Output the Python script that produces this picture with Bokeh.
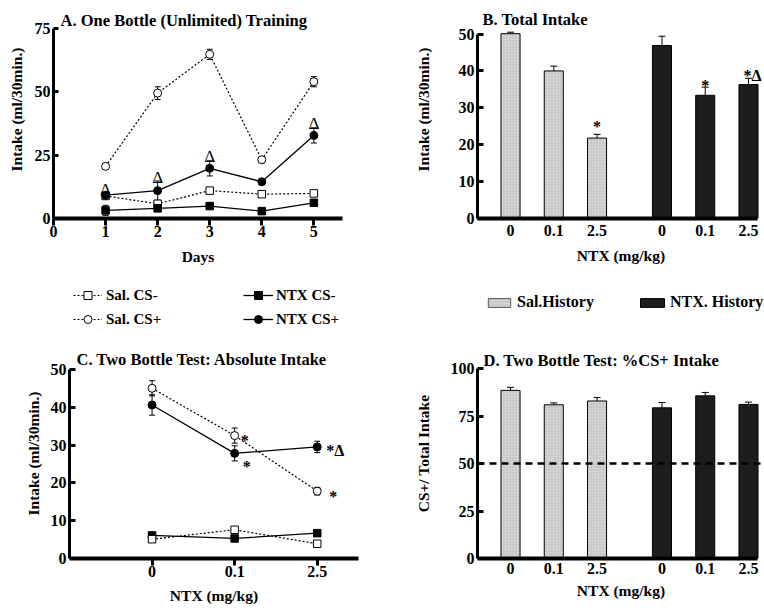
from bokeh.plotting import figure
from bokeh.models import (ColumnDataSource, Whisker, TeeHead, Legend, LegendItem, Label,
                          FixedTicker, Span, Range1d)
from bokeh.layouts import column, row
from bokeh.core.properties import value
from bokeh.embed import file_html
from bokeh.resources import INLINE

FONT = "Liberation Serif"

# ---------------- data ----------------
# Panel A: one bottle training
days = [1, 2, 3, 4, 5]
a_sal_csm = [8.9, 5.8, 11.0, 9.6, 9.9]
a_sal_csm_err = [0.6, 0.6, 0.8, 0.6, 0.6]
a_sal_csp = [20.6, 49.5, 64.8, 23.2, 54.0]
a_sal_csp_err = [0.8, 2.5, 2.0, 1.2, 2.0]
a_ntx_csm = [3.2, 4.0, 4.9, 2.9, 6.2]
a_ntx_csm_err = [2.0, 0.8, 0.8, 0.6, 0.6]
a_ntx_csp = [9.2, 11.0, 19.8, 14.5, 32.8]
a_ntx_csp_err = [0.8, 3.8, 3.0, 0.8, 3.0]
a_delta_days = [1, 2, 3, 5]

# Panel B: total intake
doses = ["0", "0.1", "2.5"]
b_sal = [50.1, 40.0, 21.8]
b_sal_err = [0.4, 1.3, 1.0]
b_ntx = [46.9, 33.4, 36.3]
b_ntx_err = [2.5, 2.2, 1.7]
b_sal_sig = ["", "", "*"]
b_ntx_sig = ["", "*", "*\u0394"]

# Panel C: two bottle absolute intake
c_sal_csp = [45.0, 32.5, 17.8]
c_sal_csp_err = [2.0, 2.0, 1.0]
c_ntx_csp = [40.6, 27.8, 29.5]
c_ntx_csp_err = [2.7, 2.0, 1.5]
c_sal_csm = [5.1, 7.6, 3.9]
c_sal_csm_err = [0.5, 0.6, 0.4]
c_ntx_csm = [6.1, 5.3, 6.7]
c_ntx_csm_err = [0.4, 0.5, 0.4]
c_sal_csp_sig = ["", "*", "*"]
c_ntx_csp_sig = ["", "*", "*\u0394"]

# Panel D: %CS+ intake
d_sal = [88.5, 80.9, 82.9]
d_sal_err = [1.6, 1.0, 1.8]
d_ntx = [79.3, 85.6, 81.1]
d_ntx_err = [2.8, 1.8, 1.2]
chance_level = 50

GRAY = "#d4d4d4"
BLACK = "#1e1c1d"


def style(p, ytick_in=5):
    p.outline_line_color = None
    p.grid.visible = False
    p.background_fill_color = "white"
    p.border_fill_color = "white"
    for ax in p.axis:
        ax.axis_line_color = "black"
        ax.major_label_text_font = FONT
        ax.major_label_text_font_style = "bold"
        ax.major_label_text_font_size = "16px"
        ax.major_label_text_color = "black"
        ax.axis_label_text_font = FONT
        ax.axis_label_text_font_style = "bold"
        ax.axis_label_text_font_size = "15.5px"
        ax.axis_label_text_color = "black"
        ax.minor_tick_line_color = None
        ax.major_tick_line_color = "black"
        ax.major_tick_line_width = 3
    p.yaxis.axis_line_width = 3
    p.yaxis.major_tick_in = ytick_in
    p.yaxis.major_tick_out = 0
    p.xaxis.axis_line_width = 4


def add_title(p, text, x, y):
    p.add_layout(Label(x=x, y=y, x_units="screen", y_units="screen", text=text,
                       text_font=FONT, text_font_style="bold", text_font_size="16.5px",
                       text_baseline="middle", text_color="black"))


def whisker(p, xs, ys, errs, both=True, head=6):
    src = ColumnDataSource(dict(x=xs,
                                lo=[y - e for y, e in zip(ys, errs)] if both else list(ys),
                                hi=[y + e for y, e in zip(ys, errs)]))
    w = Whisker(base="x", lower="lo", upper="hi", source=src, line_color="black", line_width=1,
                upper_head=TeeHead(size=head, line_color="black", line_width=1),
                lower_head=TeeHead(size=head, line_color="black", line_width=1) if both else None)
    p.add_layout(w)


def line_series(p, xs, ys, marker, filled, dotted, size=None):
    lr = p.line(xs, ys, line_color="black", line_width=1.2 if dotted else 1.3,
                line_dash="2 2" if dotted else "solid")
    if size is None:
        size = 8 if marker == "circle" else 7.5
    sr = p.scatter(xs, ys, marker=marker, size=size,
                   fill_color="black" if filled else "white", line_color="black", line_width=1)
    return lr, sr


def sig_text(p, xs, ys, texts, align, x_off, y_off, baseline):
    p.text(xs, ys, text=texts, text_font=value(FONT), text_font_size="16px", text_font_style="bold",
           text_align=align, text_baseline=baseline, x_offset=x_off, y_offset=y_off,
           text_color="#000000")


def make_legend(items, x, y, glyph_w=29, glyph_h=20, label_h=20, spacing=4, size="15px", standoff=4):
    return Legend(items=items, location=(x, y), orientation="vertical",
                  padding=0, margin=0, spacing=spacing, glyph_width=glyph_w, glyph_height=glyph_h,
                  label_height=label_h, label_standoff=standoff,
                  label_text_font=FONT, label_text_font_style="bold", label_text_font_size=size,
                  label_text_color="black",
                  border_line_alpha=0, background_fill_alpha=0)


def legend_fig(w, h):
    # the series are drawn here too, but outside the visible range: only the legend shows
    p = figure(title=None, width=w, height=h, min_border=0, x_axis_location=None, y_axis_location=None,
               x_range=Range1d(-20, -19), y_range=Range1d(-20, -19),
               output_backend="svg", toolbar_location=None)
    p.outline_line_color = None
    p.grid.visible = False
    return p


# ---------------- Panel A ----------------
A_DATA_PX = 190           # pixels from 0 to 75
A_FRAME_H = 218           # frame includes room for the title
A_YMAX = 75
pA = figure(title=None, width=388, height=280, min_border_left=53, min_border_right=46,
            min_border_top=0, min_border_bottom=62,
            x_range=Range1d(0, 5.55), y_range=Range1d(0, A_YMAX * A_FRAME_H / A_DATA_PX),
            output_backend="svg", toolbar_location=None)
style(pA)
pA.xaxis.ticker = FixedTicker(ticks=[0] + days)
pA.yaxis.ticker = FixedTicker(ticks=[0, 25, 50, 75])
pA.yaxis.bounds = (0, A_YMAX)
pA.xaxis.major_tick_out = 7
pA.xaxis.major_tick_in = 0
pA.xaxis.major_label_standoff = 0
pA.xaxis.axis_label = "Days"
pA.xaxis.axis_label_standoff = 8
pA.yaxis.axis_label = "Intake (ml/30min.)"
pA.yaxis.major_label_standoff = 3
pA.yaxis.axis_label_standoff = 7

for ys, es in [(a_sal_csm, a_sal_csm_err), (a_sal_csp, a_sal_csp_err),
               (a_ntx_csm, a_ntx_csm_err), (a_ntx_csp, a_ntx_csp_err)]:
    whisker(pA, days, ys, es)
line_series(pA, days, a_sal_csm, "square", False, True)
line_series(pA, days, a_sal_csp, "circle", False, True)
line_series(pA, days, a_ntx_csm, "square", True, False)
line_series(pA, days, a_ntx_csp, "circle", True, False)

delta_y = [a_ntx_csp[days.index(d)] + a_ntx_csp_err[days.index(d)] for d in a_delta_days]
pA.text(a_delta_days, delta_y, text=["\u0394"] * len(a_delta_days), text_font=value(FONT),
        text_font_size="17px", text_align="center", text_baseline="alphabetic", y_offset=-4,
        text_color="black")
add_title(pA, "A. One Bottle (Unlimited) Training", 7, A_FRAME_H - 20)

# ---------------- bar panels helper ----------------
n = len(doses)
sal_x = [i + 1 for i in range(n)]
ntx_x = [i + 1 + n + 0.5 for i in range(n)]
bar_ticks = sal_x + ntx_x
bar_overrides = {x: d for x, d in zip(bar_ticks, doses + doses)}
BAR_W = 0.44
BAR_XR = (0.237, 6.87)


def bar_panel(frame_h, data_px, bottom_border, ymax, yticks, sal_v, sal_e, ntx_v, ntx_e, ylabel,
              ylabel_standoff):
    p = figure(title=None, width=376, height=frame_h + bottom_border, min_border_left=89,
               min_border_right=0, min_border_top=0, min_border_bottom=bottom_border,
               x_range=Range1d(*BAR_XR), y_range=Range1d(0, ymax * frame_h / data_px),
               output_backend="svg", toolbar_location=None)
    style(p, ytick_in=6)
    p.yaxis.bounds = (0, ymax)
    p.xaxis.bounds = (BAR_XR[0], 6.7)
    p.xaxis.ticker = FixedTicker(ticks=bar_ticks)
    p.xaxis.major_label_overrides = bar_overrides
    p.xaxis.major_tick_out = 0
    p.xaxis.major_tick_in = 0
    p.xaxis.major_label_standoff = 6
    p.xaxis.axis_label = "NTX (mg/kg)"
    p.xaxis.axis_label_standoff = 8
    p.yaxis.ticker = FixedTicker(ticks=yticks)
    p.yaxis.major_label_standoff = 3
    p.yaxis.axis_label = ylabel
    p.yaxis.axis_label_standoff = ylabel_standoff
    whisker(p, sal_x, sal_v, sal_e, both=False, head=7)
    whisker(p, ntx_x, ntx_v, ntx_e, both=False, head=7)
    p.vbar(x=sal_x, top=sal_v, width=BAR_W, fill_color=GRAY, line_color="black", line_width=1,
           hatch_pattern=".", hatch_color="#8a8a8a", hatch_scale=3, hatch_weight=0.6, hatch_alpha=0.5)
    p.vbar(x=ntx_x, top=ntx_v, width=BAR_W, fill_color=BLACK, line_color="black", line_width=1)
    return p


# ---------------- Panel B ----------------
B_FRAME_H = 221
pB = bar_panel(B_FRAME_H, 187, 59, 50, [0, 10, 20, 30, 40, 50], b_sal, b_sal_err, b_ntx, b_ntx_err,
               "Intake (ml/30min.)", 24)
sig_text(pB, [x for x, s in zip(sal_x, b_sal_sig) if s],
         [v + e for v, e, s in zip(b_sal, b_sal_err, b_sal_sig) if s],
         [s for s in b_sal_sig if s], "center", 0, -8, "alphabetic")
sig_text(pB, [x for x, s in zip(ntx_x, b_ntx_sig) if s],
         [v + e for v, e, s in zip(b_ntx, b_ntx_err, b_ntx_sig) if s],
         [s for s in b_ntx_sig if s], "left", [-4, -5], [-2, -3], "alphabetic")
add_title(pB, "B. Total Intake", 5, B_FRAME_H - 22)

# ---------------- legend row ----------------
legA = legend_fig(388, 68)
l_sal_csm = line_series(legA, days, a_sal_csm, "square", False, True, size=5)
l_sal_csp = line_series(legA, days, a_sal_csp, "circle", False, True, size=5.5)
l_ntx_csm = line_series(legA, days, a_ntx_csm, "square", True, False, size=5)
l_ntx_csp = line_series(legA, days, a_ntx_csp, "circle", True, False, size=5.5)
legA.add_layout(make_legend([LegendItem(label="Sal. CS-", renderers=list(l_sal_csm)),
                             LegendItem(label="Sal. CS+", renderers=list(l_sal_csp))], 73, 19))
legA.add_layout(make_legend([LegendItem(label="NTX CS-", renderers=list(l_ntx_csm)),
                             LegendItem(label="NTX CS+", renderers=list(l_ntx_csp))], 243, 19,
                            glyph_w=30, standoff=3))

legB = legend_fig(376, 68)
l_sal_hist = legB.vbar(x=sal_x, top=b_sal, width=BAR_W, fill_color=GRAY, line_color="#555555",
                       line_width=1, hatch_pattern=".", hatch_color="#8a8a8a", hatch_scale=3,
                       hatch_weight=0.6, hatch_alpha=0.5)
l_ntx_hist = legB.vbar(x=ntx_x, top=b_ntx, width=BAR_W, fill_color=BLACK, line_color="black", line_width=1)
legB.add_layout(make_legend([LegendItem(label="Sal.History", renderers=[l_sal_hist])], 97, 37,
                            glyph_w=28, glyph_h=11, label_h=16, size="16px"))
legB.add_layout(make_legend([LegendItem(label="NTX. History", renderers=[l_ntx_hist])], 249, 37,
                            glyph_w=30, glyph_h=11, label_h=16, size="16px", standoff=3))

# ---------------- Panel C ----------------
c_x = [i + 1 for i in range(n)]
C_FRAME_H = 211
C_YMAX = 50
pC = figure(title=None, width=388, height=262, min_border_left=69, min_border_right=30,
            min_border_top=0, min_border_bottom=51,
            x_range=Range1d(0, 3.5), y_range=Range1d(0, C_YMAX * C_FRAME_H / 190),
            output_backend="svg", toolbar_location=None)
style(pC, ytick_in=6)
pC.yaxis.bounds = (0, C_YMAX)
pC.xaxis.ticker = FixedTicker(ticks=c_x)
pC.xaxis.major_label_overrides = {x: d for x, d in zip(c_x, doses)}
pC.xaxis.major_tick_out = 7
pC.xaxis.major_tick_in = 0
pC.xaxis.major_label_standoff = 0
pC.xaxis.axis_label = "NTX (mg/kg)"
pC.xaxis.axis_label_standoff = 7
pC.yaxis.ticker = FixedTicker(ticks=[0, 10, 20, 30, 40, 50])
pC.yaxis.major_label_standoff = 3
pC.yaxis.axis_label = "Intake (ml/30min.)"
pC.yaxis.axis_label_standoff = 6
for ys, es in [(c_sal_csm, c_sal_csm_err), (c_sal_csp, c_sal_csp_err),
               (c_ntx_csm, c_ntx_csm_err), (c_ntx_csp, c_ntx_csp_err)]:
    whisker(pC, c_x, ys, es)
line_series(pC, c_x, c_ntx_csm, "square", True, False)
line_series(pC, c_x, c_sal_csm, "square", False, True)
line_series(pC, c_x, c_ntx_csp, "circle", True, False)
line_series(pC, c_x, c_sal_csp, "circle", False, True)
sig_text(pC, [x for x, s in zip(c_x, c_sal_csp_sig) if s],
         [v for v, s in zip(c_sal_csp, c_sal_csp_sig) if s],
         [s for s in c_sal_csp_sig if s], "left", [6, 12], [5, 5], "middle")
sig_text(pC, [x for x, s in zip(c_x, c_ntx_csp_sig) if s],
         [v for v, s in zip(c_ntx_csp, c_ntx_csp_sig) if s],
         [s for s in c_ntx_csp_sig if s], "left", [8, 9], [13, 4], "middle")
add_title(pC, "C. Two Bottle Test: Absolute Intake", 7, C_FRAME_H - 12)

# ---------------- Panel D ----------------
D_FRAME_H = 210
pD = bar_panel(D_FRAME_H, 190, 52, 100, [0, 25, 50, 75, 100], d_sal, d_sal_err, d_ntx, d_ntx_err,
               "CS+/ Total Intake", 16)
pD.xaxis.major_label_standoff = 4
pD.xaxis.axis_label_standoff = 5
pD.add_layout(Span(location=chance_level, dimension="width", line_color="black", line_width=2.5,
                   line_dash="7 5"))
add_title(pD, "D. Two Bottle Test: %CS+ Intake", 6, D_FRAME_H - 12)

layout = column(row(pA, pB), row(legA, legB), row(pC, pD))
open("out.html", "w").write(file_html(layout, INLINE))
